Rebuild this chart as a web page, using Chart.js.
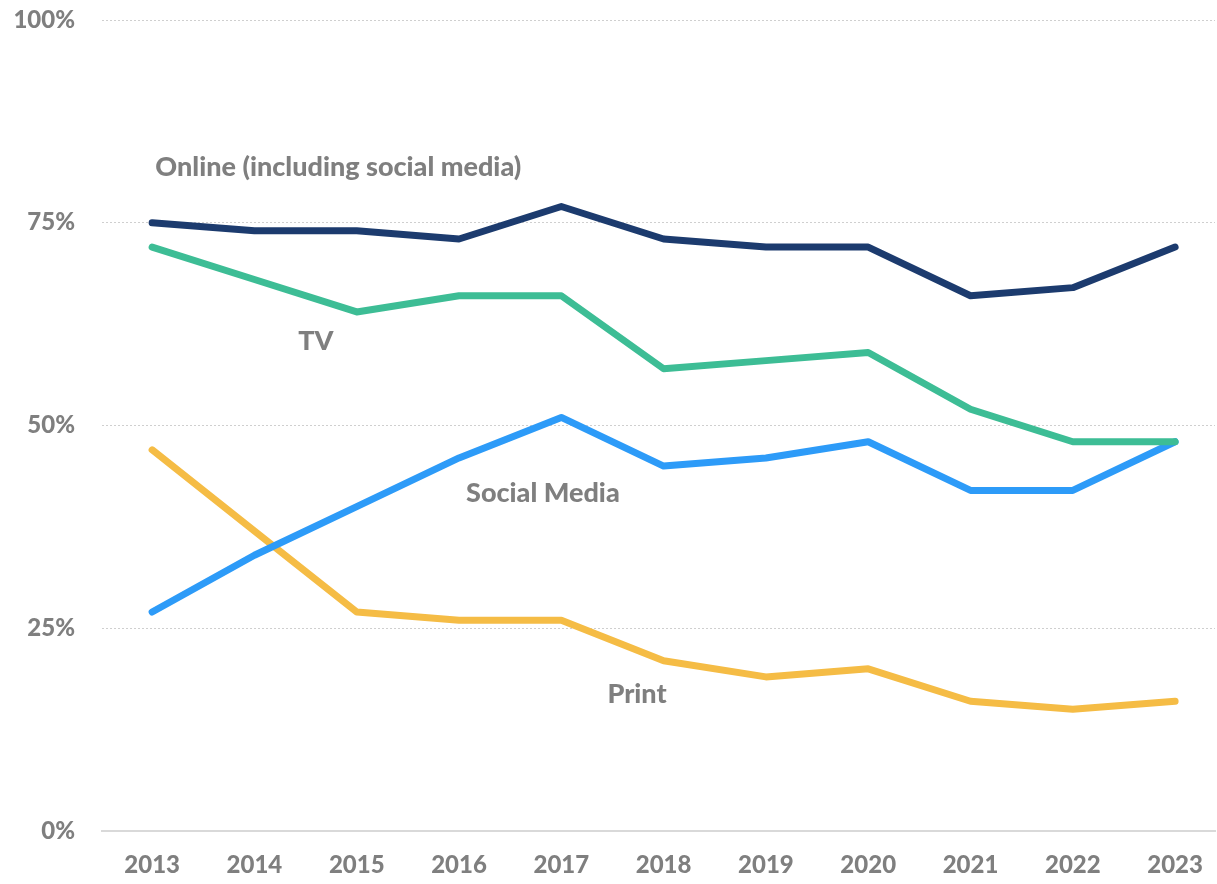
<!DOCTYPE html>
<html>
<head>
<meta charset="utf-8">
<script src="https://cdn.jsdelivr.net/npm/chart.js@4"></script>
<style>
  html, body { margin: 0; padding: 0; background: #fff; }
  #wrap { width: 1217px; height: 884px; position: relative; }
</style>
</head>
<body>
<div id="wrap"><canvas id="chart"></canvas></div>
<script>
var years = [2013, 2014, 2015, 2016, 2017, 2018, 2019, 2020, 2021, 2022, 2023];
var online = [75, 74, 74, 73, 77, 73, 72, 72, 66, 67, 72];
var tv = [72, 68, 64, 66, 66, 57, 58, 59, 52, 48, 48];
var social = [27, 34, 40, 46, 51, 45, 46, 48, 42, 42, 48];
var print = [47, 37, 27, 26, 26, 21, 19, 20, 16, 15, 16];
var yTicks = [0, 25, 50, 75, 100];

// series labels written inside the plot (year position, percent)
var labelNames = ['Online (including social media)', 'TV', 'Social Media', 'Print'];
var labelX = [2014.82, 2014.6, 2016.82, 2017.74];
var labelY = [81.8, 60.4, 41.6, 16.8];

var GREY = '#7f7f7f';
var FONT = 'Lato, "Open Sans", sans-serif';

function pts(vals) {
  return vals.map(function (v, i) { return { x: years[i], y: v }; });
}

function line(data, color) {
  return {
    data: pts(data), borderColor: color, backgroundColor: color,
    borderWidth: 7, pointRadius: 0, tension: 0,
    borderCapStyle: 'round', borderJoinStyle: 'round', fill: false
  };
}

var inlineLabels = {
  id: 'inlineLabels',
  afterDatasetsDraw: function (chart) {
    var c = chart.ctx, xs = chart.scales.x, ys = chart.scales.y;
    c.save();
    c.fillStyle = GREY;
    c.font = '900 27px ' + FONT;
    c.textAlign = 'center';
    c.textBaseline = 'middle';
    labelNames.forEach(function (t, i) {
      c.fillText(t, xs.getPixelForValue(labelX[i]), ys.getPixelForValue(labelY[i]));
    });
    c.restore();
  }
};

new Chart(document.getElementById('chart'), {
  type: 'line',
  data: {
    datasets: [
      line(online, '#1c3b6e'),
      line(tv, '#3dbd95'),
      line(social, '#2d9bf8'),
      line(print, '#f5bc45')
    ]
  },
  options: {
    responsive: true, maintainAspectRatio: false, animation: false,
    layout: { padding: { top: 20, right: 2, left: 0, bottom: 0 } },
    plugins: { legend: { display: false }, tooltip: { enabled: false } },
    scales: {
      x: {
        type: 'linear', min: 2012.51, max: 2023.39,
        afterBuildTicks: function (s) { s.ticks = years.map(function (v) { return { value: v }; }); },
        afterFit: function (s) { s.height = 53; s.paddingLeft = 0; s.paddingRight = 0; },
        grid: { display: false },
        border: { display: true, color: '#d9d9d9', width: 2 },
        ticks: {
          color: GREY, padding: 12, maxRotation: 0, autoSkip: false,
          font: { family: FONT, size: 24, weight: '900' },
          callback: function (v) { return String(v); }
        }
      },
      y: {
        min: 0, max: 100,
        afterBuildTicks: function (s) { s.ticks = yTicks.map(function (v) { return { value: v }; }); },
        afterFit: function (s) { s.width = 102; s.paddingTop = 0; s.paddingBottom = 0; },
        grid: {
          color: function (ctx) { return ctx.tick && ctx.tick.value === 0 ? 'rgba(0,0,0,0)' : '#cfcfcf'; },
          lineWidth: 1, drawTicks: false
        },
        border: { display: false, dash: [2, 2] },
        ticks: {
          color: GREY, padding: 27,
          font: { family: FONT, size: 24, weight: '900' },
          callback: function (v) { return v + '%'; }
        }
      }
    }
  },
  plugins: [inlineLabels]
});
</script>
</body>
</html>
